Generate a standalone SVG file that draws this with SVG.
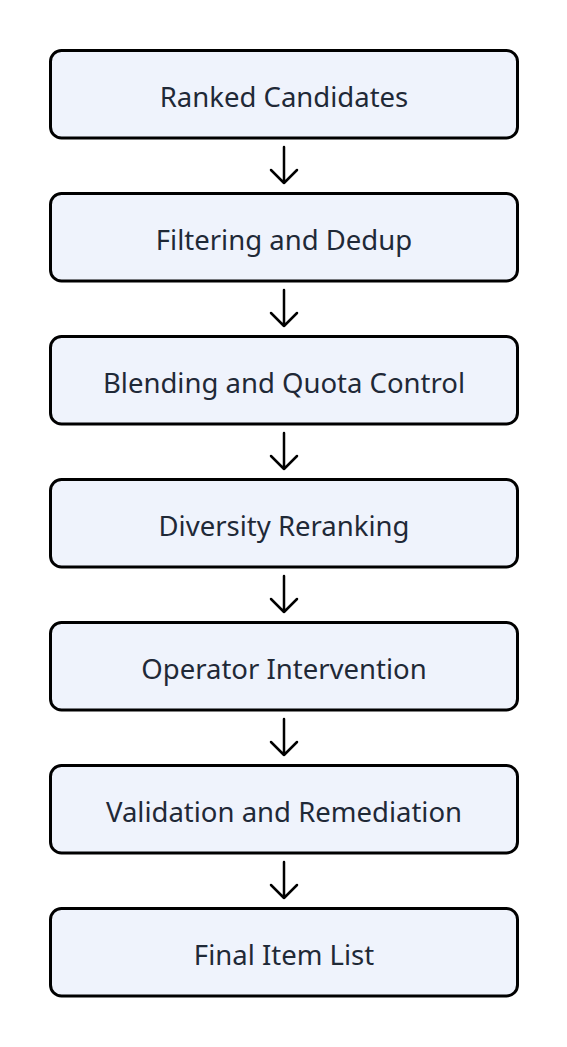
<svg xmlns="http://www.w3.org/2000/svg" width="567" height="1047" viewBox="0 0 567 1047">
<style>
.box{fill:#eff3fc;stroke:#000;stroke-width:3}
.lbl{font-family:"Noto Sans",sans-serif;font-size:27.5px;fill:#1f2937;text-anchor:middle}
.arr{stroke:#000;stroke-width:2.5;fill:none;stroke-linecap:round;stroke-linejoin:round}
</style>
<rect width="567" height="1047" fill="#fff"/>
<g id="connectors">
<g transform="translate(0,0)"><path class="arr" d="M284 147V183M271 170L284 183L297 170"/></g>
<g transform="translate(0,143)"><path class="arr" d="M284 147V183M271 170L284 183L297 170"/></g>
<g transform="translate(0,286)"><path class="arr" d="M284 147V183M271 170L284 183L297 170"/></g>
<g transform="translate(0,429)"><path class="arr" d="M284 147V183M271 170L284 183L297 170"/></g>
<g transform="translate(0,572)"><path class="arr" d="M284 147V183M271 170L284 183L297 170"/></g>
<g transform="translate(0,715)"><path class="arr" d="M284 147V183M271 170L284 183L297 170"/></g>
</g>
<g id="n1"><rect class="box" x="50.5" y="50.5" width="467" height="87.5" rx="11"/><text class="lbl" x="284" y="107">Ranked Candidates</text></g>
<g id="n2"><rect class="box" x="50.5" y="193.5" width="467" height="87.5" rx="11"/><text class="lbl" x="284" y="250">Filtering and Dedup</text></g>
<g id="n3"><rect class="box" x="50.5" y="336.5" width="467" height="87.5" rx="11"/><text class="lbl" x="284" y="393">Blending and Quota Control</text></g>
<g id="n4"><rect class="box" x="50.5" y="479.5" width="467" height="87.5" rx="11"/><text class="lbl" x="284" y="536">Diversity Reranking</text></g>
<g id="n5"><rect class="box" x="50.5" y="622.5" width="467" height="87.5" rx="11"/><text class="lbl" x="284" y="679">Operator Intervention</text></g>
<g id="n6"><rect class="box" x="50.5" y="765.5" width="467" height="87.5" rx="11"/><text class="lbl" x="284" y="822">Validation and Remediation</text></g>
<g id="n7"><rect class="box" x="50.5" y="908.5" width="467" height="87.5" rx="11"/><text class="lbl" x="284" y="965">Final Item List</text></g>
</svg>
